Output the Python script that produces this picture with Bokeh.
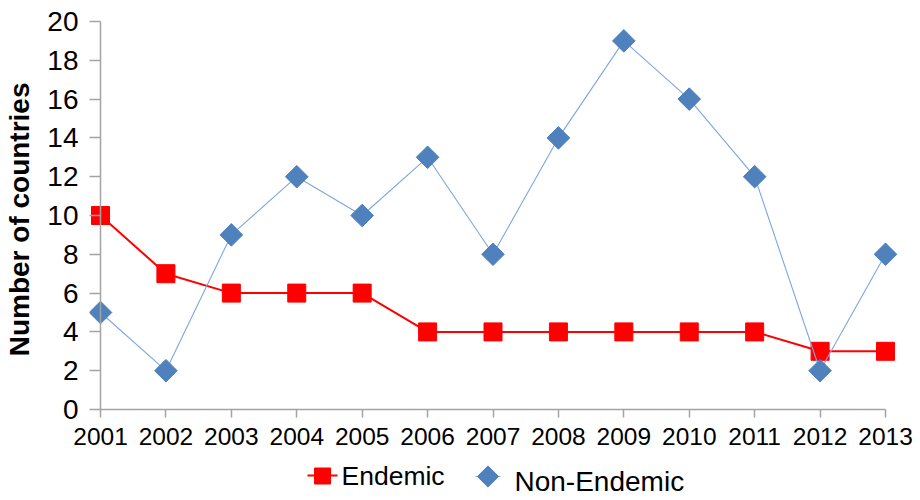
import math

from bokeh.plotting import figure
from bokeh.layouts import column
from bokeh.models import Range1d, FixedTicker, Span
from bokeh.core.properties import value
from bokeh.embed import file_html
from bokeh.resources import INLINE

# Number of countries reporting cases per year
years = [2001, 2002, 2003, 2004, 2005, 2006, 2007, 2008, 2009, 2010, 2011, 2012, 2013]
endemic = [10, 7, 6, 6, 6, 4, 4, 4, 4, 4, 4, 3, 3]
non_endemic = [5, 2, 9, 12, 10, 13, 8, 14, 19, 16, 12, 2, 8]
y_ticks = [0, 2, 4, 6, 8, 10, 12, 14, 16, 18, 20]
series_names = ["Endemic", "Non-Endemic"]

FONT = "Liberation Sans"
AXIS_GREY = "#A3A3A3"
RED = "#FF0000"
BLUE = "#4F81BD"
BLUE_LINE = "#7FA6DC"

# Frame runs a little past the first and last year so edge markers stay whole
p = figure(
    width=920, height=455,
    output_backend="svg", toolbar_location=None,
    x_range=Range1d(2000.8318, 2013.3057), y_range=Range1d(0, 20),
    min_border_left=89, min_border_right=15,
    min_border_top=21, min_border_bottom=46,
)
p.outline_line_color = None
p.grid.visible = False
p.background_fill_color = "white"
p.border_fill_color = "white"

# Vertical axis line at the first year
p.add_layout(Span(location=years[0], dimension="height",
                  line_color=AXIS_GREY, line_width=1.5))

# Endemic series: red line with square markers
p.line(years, endemic, line_color=RED, line_width=2)
p.scatter(years, endemic, marker="square", size=18, fill_color=RED, line_color=RED)

# Non-endemic series: thin light-blue line with diamond markers
p.line(years, non_endemic, line_color=BLUE_LINE, line_width=1.1)
p.scatter(years, non_endemic, marker="square", size=16, angle=math.pi / 4,
          fill_color=BLUE, line_color=BLUE)

# X axis
xa = p.xaxis[0]
xa.ticker = FixedTicker(ticks=years)
xa.bounds = (years[0], years[-1])
xa.major_tick_in = 0
xa.major_tick_out = 8
xa.minor_tick_line_color = None
xa.axis_line_color = AXIS_GREY
xa.axis_line_width = 1.5
xa.major_tick_line_color = AXIS_GREY
xa.major_tick_line_width = 1.5
xa.major_label_text_font = FONT
xa.major_label_text_font_size = "24.5px"
xa.major_label_text_color = "black"
xa.major_label_standoff = 10

# Y axis: ticks reach in from the frame edge to the axis line
ya = p.yaxis[0]
ya.ticker = FixedTicker(ticks=y_ticks)
ya.axis_line_color = None
ya.major_tick_in = 11
ya.major_tick_out = 0
ya.minor_tick_line_color = None
ya.major_tick_line_color = AXIS_GREY
ya.major_tick_line_width = 1.5
ya.major_label_text_font = FONT
ya.major_label_text_font_size = "28px"
ya.major_label_text_color = "black"
ya.major_label_standoff = 11
ya.axis_label = "Number  of countries"
ya.axis_label_text_font = FONT
ya.axis_label_text_font_size = "28px"
ya.axis_label_text_font_style = "bold"
ya.axis_label_text_color = "black"
ya.axis_label_standoff = 9

# Legend strip underneath the chart; its ranges are in page pixels
lg = figure(
    width=920, height=45,
    output_backend="svg", toolbar_location=None,
    x_range=Range1d(89, 905), y_range=Range1d(500, 455),
    x_axis_location=None, y_axis_location=None,
    min_border_left=89, min_border_right=15,
    min_border_top=0, min_border_bottom=0,
)
lg.outline_line_color = None
lg.grid.visible = False
lg.background_fill_color = "white"
lg.border_fill_color = "white"

# Endemic key
lg.segment(x0=[307], y0=[475], x1=[337], y1=[475], line_color=RED, line_width=2)
lg.scatter([322], [475.5], marker="square", size=16, fill_color=RED, line_color=RED)
lg.text([341], [475], text=[series_names[0]],
        text_font=value(FONT), text_font_size=value("26.5px"),
        text_baseline="alphabetic", text_align="left", text_color="black")

# Non-endemic key
lg.segment(x0=[475], y0=[476], x1=[500], y1=[476], line_color=BLUE_LINE, line_width=1.1)
lg.scatter([487.5], [476], marker="square", size=15, angle=math.pi / 4,
           fill_color=BLUE, line_color=BLUE)
lg.text([514], [481], text=[series_names[1]],
        text_font=value(FONT), text_font_size=value("28px"),
        text_baseline="alphabetic", text_align="left", text_color="black")

layout = column(p, lg, spacing=0)
open("out.html", "w").write(file_html(layout, INLINE))
